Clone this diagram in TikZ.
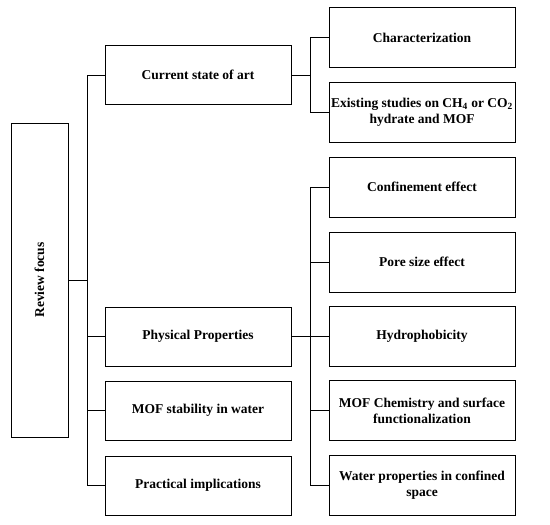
\documentclass[tikz,border=0pt]{standalone}
\usepackage{fontspec}
\setmainfont{Liberation Serif}
\begin{document}
\begin{tikzpicture}[x=1pt,y=-1pt,
  box/.style={draw, line width=1pt, inner sep=0pt, align=center,
    font=\bfseries\fontsize{13.5}{16.3}\selectfont},
  mid/.style={box, minimum width=186pt, minimum height=59pt},
  leaf/.style={box, minimum width=186pt, minimum height=60pt},
  conn/.style={line width=1pt}]
\useasboundingbox (0,0) rectangle (550,525);
\node[box, minimum width=57pt, minimum height=314pt] (rf) at (39.5,280) {};
\node[rotate=90, font=\bfseries\fontsize{13.5}{16.3}\selectfont] (rft) at (rf.center) {Review focus};
\node[mid] (cs) at (198,75) {Current state of art};
\node[mid] (pp) at (198,336.5) {Physical Properties};
\node[mid] (ms) at (198,410.5) {MOF stability in water};
\node[mid] (pi) at (198,485.5) {Practical implications};
\node[leaf] (ch) at (422,37.5) {Characterization};
\node[leaf] (ex) at (422,112) {Existing studies on CH\textsubscript{4} or CO\textsubscript{2}\\hydrate and MOF};
\node[leaf] (cf) at (422,187) {Confinement effect};
\node[leaf] (ps) at (422,262) {Pore size effect};
\node[leaf] (hy) at (422,336.5) {Hydrophobicity};
\node[leaf] (mc) at (422,410.5) {MOF Chemistry and surface\\functionalization};
\node[leaf] (wp) at (422,485.5) {Water properties in confined\\space};
\coordinate (tk) at (87,0);
\coordinate (br) at (310,0);
\draw[conn] (rf.east) -- (rf.east -| tk);
\draw[conn] (cs.west) -- (cs.west -| tk) |- (pi.west);
\draw[conn] (pp.west) -- (pp.west -| tk);
\draw[conn] (ms.west) -- (ms.west -| tk);
\draw[conn] (cs.east) -- (cs.east -| br);
\draw[conn] (ch.west) -- (ch.west -| br) |- (ex.west);
\draw[conn] (cf.west) -- (cf.west -| br) |- (wp.west);
\draw[conn] (ps.west) -- (ps.west -| br);
\draw[conn, line width=1.6pt] (pp.east) -- (hy.west);
\draw[conn] (mc.west) -- (mc.west -| br);
\end{tikzpicture}
\end{document}
